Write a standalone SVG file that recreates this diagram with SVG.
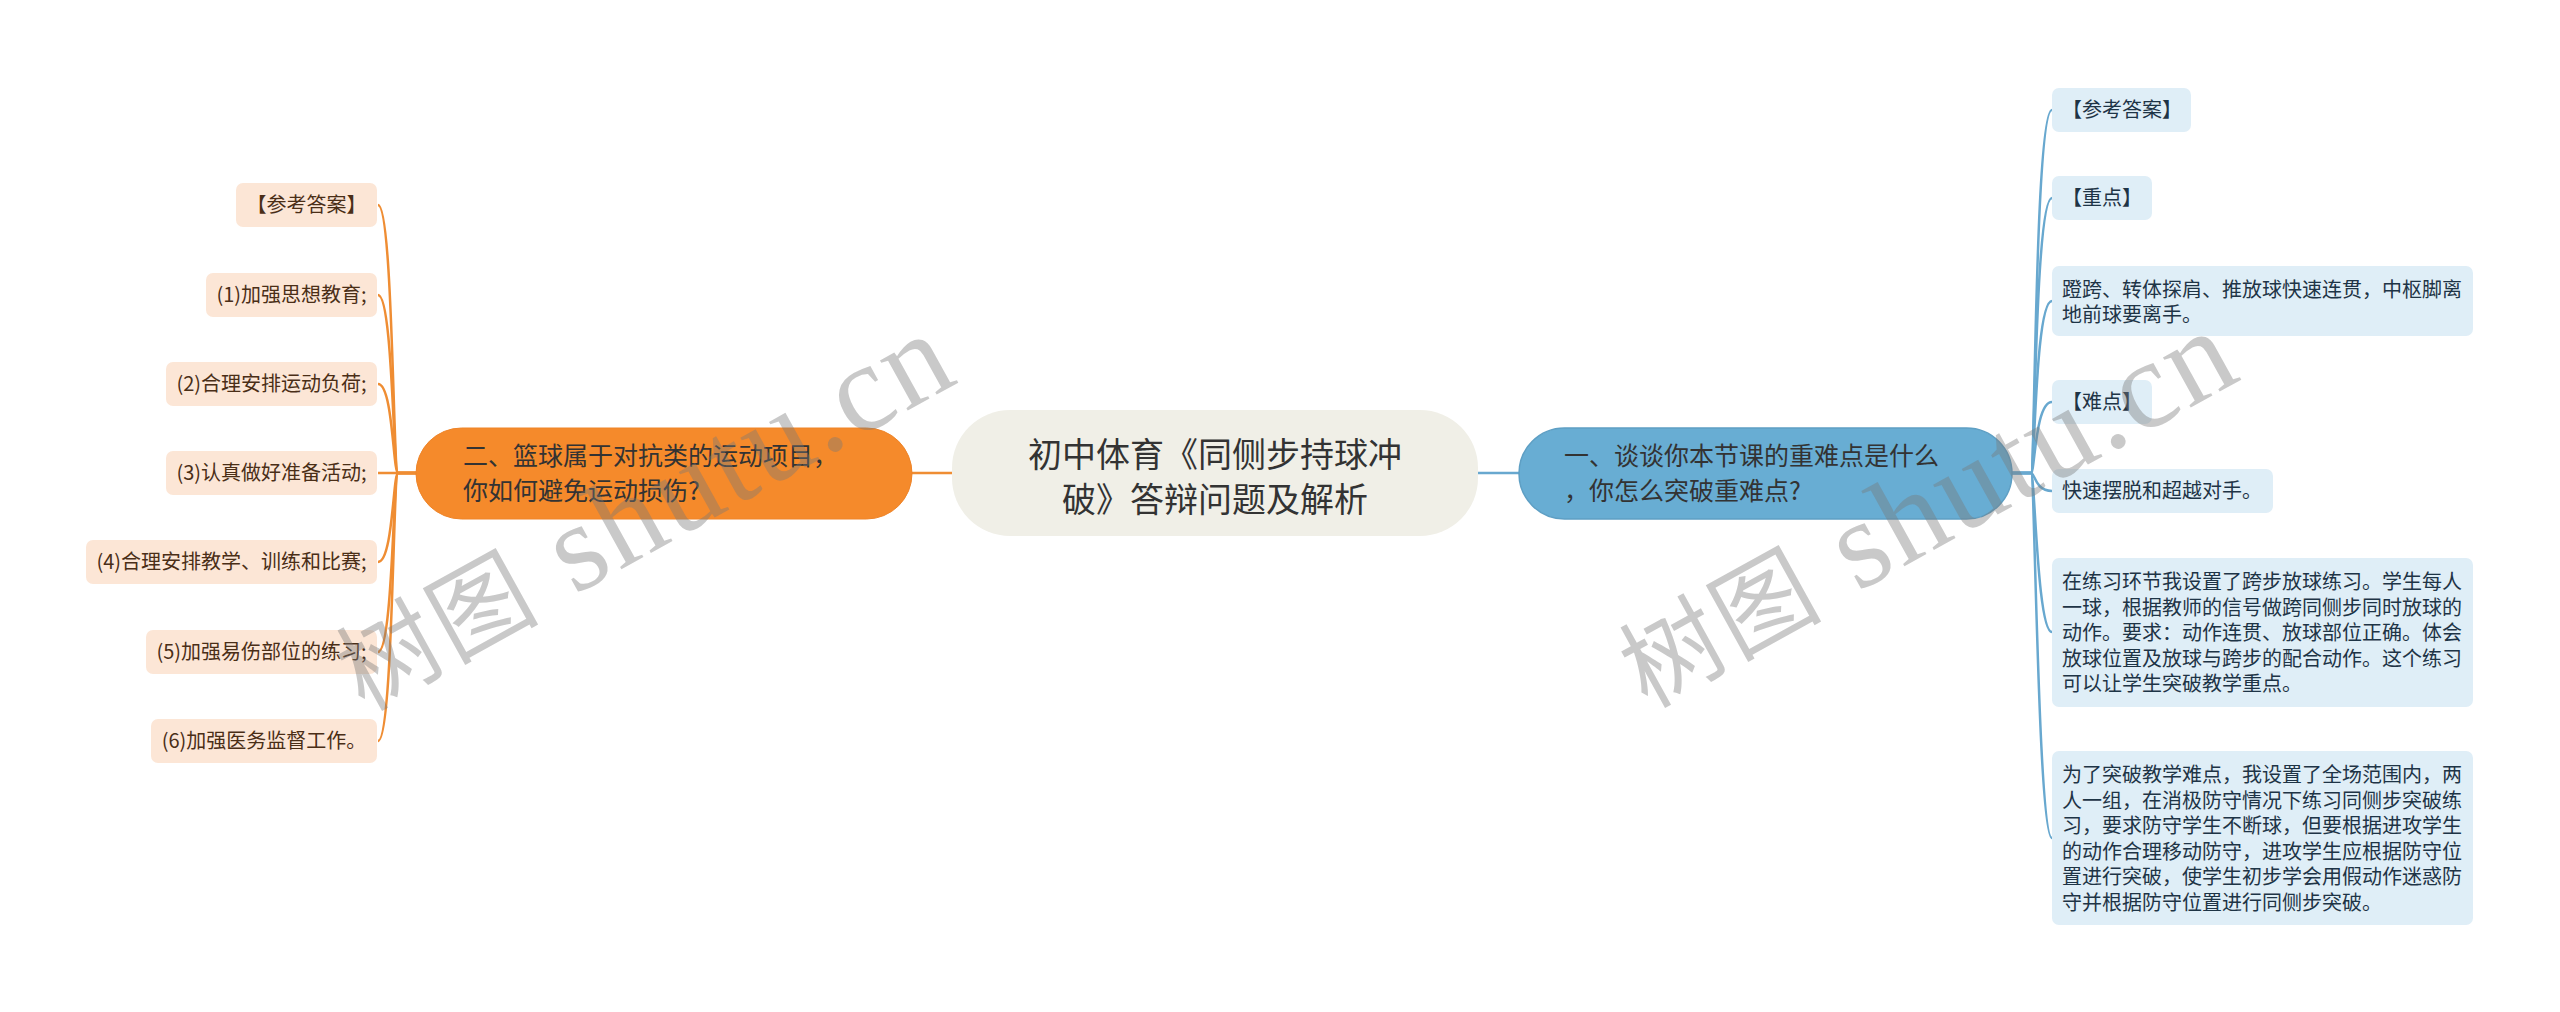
<svg xmlns="http://www.w3.org/2000/svg" width="2560" height="1012" viewBox="0 0 2560 1012">
<style>
text{font-family:"Noto Sans CJK SC","Noto Sans",sans-serif;}
.lo{fill:none;stroke:#EF8D33;stroke-width:2.5;}
.lb{fill:none;stroke:#68A8CF;stroke-width:2.5;}
.lf{fill:#FCE6D6;}
.rf{fill:#DFEEF7;}
.lt{font-size:20px;fill:#4A2E17;text-anchor:middle;}
.rt{font-size:20px;fill:#1E3446;}
.bt{font-size:25px;fill:#333333;}
.wm{font-family:"Liberation Serif","Noto Sans CJK SC",serif;font-size:100px;fill:rgba(120,120,120,0.4);letter-spacing:3px;}
.wl{font-size:125px;}
</style>
<rect width="2560" height="1012" fill="#FFFFFF"/>
<g id="connectors">
<path class="lo" d="M912,473 L952,473"/>
<path class="lb" d="M1478,473 L1519,473"/>
<path class="lo" d="M416,473 L398,473 C393,473 393,205 378,205"/>
<path class="lo" d="M416,473 L398,473 C393,473 393,295 378,295"/>
<path class="lo" d="M416,473 L398,473 C393,473 393,384 378,384"/>
<path class="lo" d="M416,473 L378,473"/>
<path class="lo" d="M416,473 L398,473 C393,473 393,562 378,562"/>
<path class="lo" d="M416,473 L398,473 C393,473 393,652 378,652"/>
<path class="lo" d="M416,473 L398,473 C393,473 393,741 378,741"/>
<path class="lb" d="M2012,473 L2031,473 C2035,473 2035,110 2052,110"/>
<path class="lb" d="M2012,473 L2031,473 C2035,473 2035,198 2052,198"/>
<path class="lb" d="M2012,473 L2031,473 C2035,473 2035,301 2052,301"/>
<path class="lb" d="M2012,473 L2031,473 C2035,473 2035,402 2052,402"/>
<path class="lb" d="M2012,473 L2031,473 C2035,473 2035,491 2052,491"/>
<path class="lb" d="M2012,473 L2031,473 C2035,473 2037,632 2052,632"/>
<path class="lb" d="M2012,473 L2031,473 C2035,473 2038,838 2052,838"/>
</g>
<g id="root">
<rect x="952" y="410" width="526" height="126" rx="58" fill="#F0EFE7"/>
<text x="1215" y="467" font-size="34" fill="#333333" text-anchor="middle">初中体育《同侧步持球冲</text>
<text x="1215" y="512" font-size="34" fill="#333333" text-anchor="middle">破》答辩问题及解析</text>
</g>
<g id="branch-left">
<rect x="416" y="428" width="496" height="91" rx="45.5" fill="#F58A2B" stroke="#EE8428" stroke-width="1"/>
<text class="bt" x="463" y="465">二、篮球属于对抗类的运动项目，</text>
<text class="bt" x="463" y="500">你如何避免运动损伤?</text>
</g>
<g id="branch-right">
<rect x="1519" y="428" width="493" height="91" rx="45.5" fill="#68ADD3" stroke="#5E9FC4" stroke-width="1.5"/>
<text class="bt" x="1564" y="465">一、谈谈你本节课的重难点是什么</text>
<text class="bt" x="1564" y="500">，你怎么突破重难点?</text>
</g>
<g id="l1"><rect class="lf" x="236" y="183" width="141" height="44" rx="7"/><text class="lt" x="306.5" y="212">【参考答案】</text></g>
<g id="l2"><rect class="lf" x="206" y="273" width="171" height="44" rx="7"/><text class="lt" x="291.5" y="302">(1)加强思想教育;</text></g>
<g id="l3"><rect class="lf" x="166" y="362" width="211" height="44" rx="7"/><text class="lt" x="271.5" y="391">(2)合理安排运动负荷;</text></g>
<g id="l4"><rect class="lf" x="166" y="451" width="211" height="44" rx="7"/><text class="lt" x="271.5" y="480">(3)认真做好准备活动;</text></g>
<g id="l5"><rect class="lf" x="86" y="540" width="291" height="44" rx="7"/><text class="lt" x="231.5" y="569">(4)合理安排教学、训练和比赛;</text></g>
<g id="l6"><rect class="lf" x="146" y="630" width="231" height="44" rx="7"/><text class="lt" x="261.5" y="659">(5)加强易伤部位的练习;</text></g>
<g id="l7"><rect class="lf" x="151" y="719" width="226" height="44" rx="7"/><text class="lt" x="264" y="748">(6)加强医务监督工作。</text></g>
<g id="r1"><rect class="rf" x="2052" y="88" width="139" height="44" rx="7"/><text class="rt" x="2062" y="117">【参考答案】</text></g>
<g id="r2"><rect class="rf" x="2052" y="176" width="100" height="44" rx="7"/><text class="rt" x="2062" y="205">【重点】</text></g>
<g id="r3"><rect class="rf" x="2052" y="266" width="421" height="70" rx="7"/>
<text class="rt" x="2062" y="297">蹬跨、转体探肩、推放球快速连贯，中枢脚离</text>
<text class="rt" x="2062" y="322">地前球要离手。</text></g>
<g id="r4"><rect class="rf" x="2052" y="380" width="100" height="44" rx="7"/><text class="rt" x="2062" y="409">【难点】</text></g>
<g id="r5"><rect class="rf" x="2052" y="469" width="221" height="44" rx="7"/><text class="rt" x="2062" y="498">快速摆脱和超越对手。</text></g>
<g id="r6"><rect class="rf" x="2052" y="558" width="421" height="149" rx="7"/>
<text class="rt" x="2062" y="589">在练习环节我设置了跨步放球练习。学生每人</text>
<text class="rt" x="2062" y="614.6">一球，根据教师的信号做跨同侧步同时放球的</text>
<text class="rt" x="2062" y="640.2">动作。要求：动作连贯、放球部位正确。体会</text>
<text class="rt" x="2062" y="665.8">放球位置及放球与跨步的配合动作。这个练习</text>
<text class="rt" x="2062" y="691.4">可以让学生突破教学重点。</text></g>
<g id="r7"><rect class="rf" x="2052" y="751" width="421" height="174" rx="7"/>
<text class="rt" x="2062" y="782">为了突破教学难点，我设置了全场范围内，两</text>
<text class="rt" x="2062" y="807.6">人一组，在消极防守情况下练习同侧步突破练</text>
<text class="rt" x="2062" y="833.2">习，要求防守学生不断球，但要根据进攻学生</text>
<text class="rt" x="2062" y="858.8">的动作合理移动防守，进攻学生应根据防守位</text>
<text class="rt" x="2062" y="884.4">置进行突破，使学生初步学会用假动作迷惑防</text>
<text class="rt" x="2062" y="910">守并根据防守位置进行同侧步突破。</text></g>
<g id="watermark">
<text class="wm" transform="translate(364,712) rotate(-29)">树图<tspan class="wl"> shutu.cn</tspan></text>
<text class="wm" transform="translate(1647,709) rotate(-29)">树图<tspan class="wl"> shutu.cn</tspan></text>
</g>
</svg>
